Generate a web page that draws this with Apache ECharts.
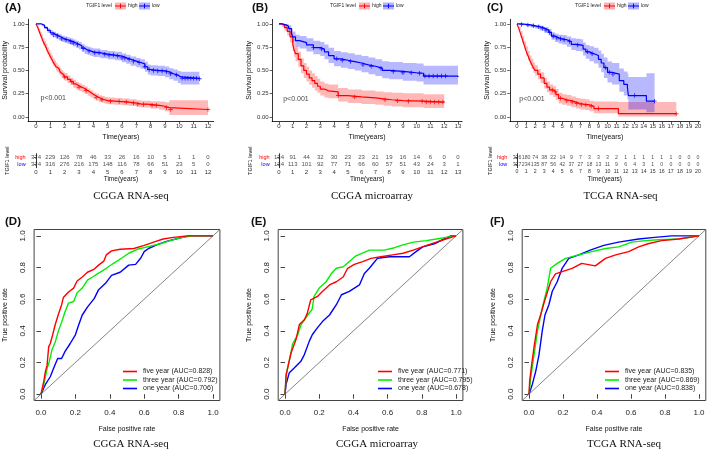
<!DOCTYPE html>
<html><head><meta charset="utf-8">
<script src="https://cdn.jsdelivr.net/npm/echarts@6.0.0/dist/echarts.min.js"></script>
<style>html,body{margin:0;padding:0;background:#fff}#c{width:709px;height:453px}</style>
</head><body><div id="c"></div>
<script>
// ---------- Kaplan-Meier data: [time, survival, lower CI, upper CI] ----------
const A_high = [[0,1,1,1],[0.1,0.97,0.955,0.985],[0.2,0.93,0.905,0.955],[0.3,0.89,0.86,0.92],[0.4,0.85,0.815,0.885],[0.5,0.81,0.77,0.845],[0.6,0.78,0.74,0.82],[0.7,0.75,0.71,0.79],[0.8,0.71,0.668,0.75],[0.9,0.68,0.638,0.72],[1.0,0.65,0.608,0.69],[1.1,0.62,0.578,0.662],[1.2,0.59,0.548,0.632],[1.3,0.565,0.524,0.607],[1.4,0.54,0.5,0.582],[1.5,0.52,0.48,0.562],[1.6,0.5,0.46,0.542],[1.7,0.48,0.44,0.522],[1.8,0.46,0.42,0.502],[1.9,0.445,0.405,0.487],[2.0,0.43,0.39,0.472],[2.2,0.405,0.365,0.447],[2.4,0.38,0.34,0.422],[2.6,0.355,0.315,0.397],[2.8,0.335,0.295,0.377],[3.0,0.32,0.28,0.362],[3.2,0.305,0.266,0.347],[3.4,0.285,0.248,0.327],[3.6,0.265,0.228,0.306],[3.8,0.245,0.208,0.286],[4.0,0.225,0.19,0.264],[4.2,0.21,0.175,0.249],[4.4,0.195,0.162,0.234],[4.6,0.185,0.152,0.224],[4.8,0.175,0.142,0.214],[5.0,0.17,0.137,0.209],[5.5,0.165,0.132,0.204],[6.0,0.16,0.127,0.199],[6.5,0.15,0.117,0.189],[7.0,0.14,0.107,0.18],[7.3,0.135,0.102,0.175],[8.0,0.125,0.09,0.17],[8.6,0.115,0.078,0.165],[9.0,0.1,0.062,0.158],[9.3,0.08,0.022,0.18],[12.0,0.08,0.022,0.18]];
const A_low = [[0,1,1,1],[0.2,1,1,1],[0.4,0.985,0.975,0.995],[0.6,0.96,0.945,0.975],[0.8,0.93,0.905,0.955],[1.0,0.905,0.877,0.933],[1.2,0.885,0.855,0.915],[1.4,0.87,0.838,0.902],[1.6,0.855,0.822,0.888],[1.8,0.84,0.806,0.874],[2.0,0.83,0.795,0.865],[2.2,0.82,0.784,0.856],[2.4,0.81,0.773,0.847],[2.6,0.795,0.757,0.833],[2.8,0.78,0.741,0.819],[3.0,0.765,0.725,0.805],[3.2,0.74,0.698,0.782],[3.4,0.72,0.677,0.763],[3.6,0.71,0.666,0.754],[3.8,0.7,0.656,0.744],[4.0,0.69,0.645,0.735],[4.5,0.675,0.63,0.72],[5.0,0.665,0.62,0.71],[5.5,0.655,0.609,0.701],[6.0,0.635,0.588,0.682],[6.3,0.62,0.572,0.668],[6.6,0.6,0.551,0.649],[7.0,0.585,0.535,0.635],[7.3,0.57,0.519,0.621],[7.6,0.54,0.487,0.593],[7.8,0.51,0.456,0.564],[8.0,0.5,0.445,0.555],[8.5,0.495,0.439,0.551],[9.0,0.485,0.428,0.542],[9.3,0.465,0.406,0.524],[9.6,0.45,0.389,0.511],[9.9,0.43,0.366,0.494],[10.1,0.415,0.348,0.486],[11.4,0.41,0.342,0.486]];
const A_highCensor = [2.0,2.5,3.0,3.5,4.2,4.6,5.2,5.8,6.3,6.8,7.1,7.5,8.1,8.4,9.1,9.4,12.0];
const A_lowCensor = [1.2,1.5,1.8,2.1,2.4,2.6,2.9,3.3,3.7,4.1,4.4,4.8,5.1,5.4,5.7,6.0,6.2,6.5,6.8,7.2,7.6,7.9,8.2,8.5,8.8,9.1,9.4,9.8,10.2,10.4,10.6,10.8,11.0,11.2,11.4];

const B_high = [[0,1,1,1],[0.2,0.99,0.97,1],[0.4,0.96,0.925,0.995],[0.6,0.92,0.875,0.965],[0.8,0.86,0.8,0.92],[1.0,0.78,0.71,0.85],[1.1,0.72,0.645,0.795],[1.2,0.68,0.6,0.76],[1.4,0.62,0.54,0.7],[1.6,0.55,0.47,0.63],[1.8,0.5,0.42,0.58],[2.0,0.46,0.38,0.54],[2.2,0.42,0.345,0.5],[2.4,0.39,0.315,0.47],[2.6,0.36,0.285,0.44],[2.8,0.33,0.26,0.41],[3.0,0.3,0.23,0.38],[3.3,0.28,0.21,0.36],[3.6,0.27,0.2,0.35],[4.3,0.23,0.165,0.31],[5.0,0.215,0.15,0.295],[6.0,0.205,0.14,0.285],[7.0,0.195,0.13,0.275],[7.6,0.185,0.12,0.265],[8.2,0.175,0.112,0.26],[9.0,0.17,0.105,0.255],[10.5,0.16,0.095,0.245],[12.0,0.16,0.095,0.245]];
const B_low = [[0,1,1,1],[0.3,0.99,0.975,1],[0.5,0.975,0.95,1],[0.7,0.95,0.915,0.985],[0.9,0.9,0.85,0.95],[1.0,0.86,0.8,0.92],[1.2,0.82,0.755,0.885],[1.5,0.8,0.735,0.87],[2.0,0.775,0.705,0.845],[2.5,0.745,0.675,0.82],[3.0,0.73,0.655,0.805],[3.3,0.7,0.62,0.78],[3.6,0.66,0.58,0.745],[4.0,0.625,0.545,0.71],[4.5,0.61,0.53,0.695],[5.0,0.595,0.515,0.685],[5.5,0.58,0.5,0.67],[6.0,0.56,0.48,0.655],[6.5,0.545,0.46,0.64],[7.0,0.525,0.44,0.62],[7.5,0.5,0.415,0.6],[8.0,0.49,0.405,0.59],[9.0,0.475,0.39,0.58],[10.0,0.47,0.38,0.575],[10.5,0.44,0.35,0.55],[13.0,0.43,0.335,0.55]];
const B_highCensor = [4.3,5.5,7.7,8.6,9.4,10.4,10.7,11.0,11.3,11.6,11.9];
const B_lowCensor = [2.5,3.1,4.2,4.6,5.2,6.1,6.7,7.4,8.3,9.0,9.6,10.2,10.6,10.9,11.2,11.5,11.8,12.1];

const C_high = [[0,1,1,1],[0.2,0.95,0.925,0.975],[0.4,0.89,0.855,0.925],[0.6,0.83,0.79,0.87],[0.8,0.77,0.725,0.815],[1.0,0.71,0.66,0.76],[1.2,0.66,0.61,0.71],[1.4,0.61,0.56,0.66],[1.6,0.57,0.515,0.625],[1.8,0.53,0.475,0.585],[2.0,0.5,0.445,0.555],[2.3,0.46,0.405,0.515],[2.6,0.42,0.365,0.48],[3.0,0.36,0.305,0.42],[3.3,0.32,0.265,0.38],[3.6,0.29,0.235,0.35],[4.0,0.27,0.215,0.33],[4.3,0.24,0.185,0.3],[4.6,0.2,0.145,0.26],[5.0,0.185,0.13,0.245],[5.5,0.175,0.12,0.235],[6.0,0.16,0.105,0.22],[6.5,0.145,0.09,0.205],[7.0,0.135,0.08,0.195],[7.5,0.13,0.075,0.19],[8.0,0.115,0.06,0.175],[8.5,0.09,0.04,0.165],[11.2,0.035,0.005,0.16],[17.6,0.035,0.005,0.16]];
const C_low = [[0,1,1,1],[0.5,0.995,0.985,1],[1.0,0.99,0.975,1],[1.5,0.98,0.965,0.995],[2.0,0.97,0.95,0.99],[2.5,0.955,0.93,0.98],[3.0,0.935,0.905,0.965],[3.5,0.91,0.875,0.945],[3.8,0.87,0.83,0.91],[4.2,0.85,0.805,0.895],[4.6,0.84,0.79,0.885],[5.0,0.83,0.78,0.88],[5.5,0.81,0.755,0.865],[6.0,0.78,0.72,0.845],[6.5,0.775,0.71,0.84],[7.0,0.77,0.705,0.835],[7.3,0.73,0.66,0.8],[7.6,0.7,0.625,0.775],[8.0,0.68,0.6,0.76],[8.5,0.66,0.575,0.745],[9.0,0.62,0.53,0.715],[9.3,0.58,0.48,0.68],[9.6,0.53,0.42,0.64],[10.0,0.48,0.37,0.595],[10.5,0.46,0.35,0.58],[11.3,0.39,0.27,0.52],[11.8,0.35,0.23,0.49],[12.2,0.32,0.19,0.47],[12.3,0.23,0.08,0.43],[14.3,0.17,0.05,0.47],[15.2,0.17,0.05,0.47]];
const C_highCensor = [3.9,4.2,4.8,5.5,6.1,6.6,7.1,7.6,8.2,9.0,17.6];
const C_lowCensor = [0.5,1.2,1.8,2.4,2.8,3.2,3.6,4.0,4.4,4.8,5.2,5.8,6.7,7.8,8.3,9.8,10.2,10.6,13.0,15.2];

// ---------- number-at-risk tables ----------
const A_riskTimes = [0,1,2,3,4,5,6,7,8,9,10,11,12];
const A_riskHigh = [374,229,126,78,46,33,26,16,10,5,1,1,0];
const A_riskLow  = [374,316,276,216,175,148,116,78,66,51,23,5,0];
const B_riskTimes = [0,1,2,3,4,5,6,7,8,9,10,11,12,13];
const B_riskHigh = [134,91,44,32,30,23,23,21,19,16,14,6,0,0];
const B_riskLow  = [134,113,101,92,77,71,66,60,57,51,43,24,3,1];
const C_riskTimes = [0,1,2,3,4,5,6,7,8,9,10,11,12,13,14,15,16,17,18,19,20];
const C_riskHigh = [326,180,74,38,22,14,9,7,3,3,3,2,1,1,1,1,1,1,0,0,0];
const C_riskLow  = [327,234,135,87,56,42,37,27,18,13,11,9,6,4,3,1,0,0,0,0,0];

const kmYTicks = [0,0.25,0.5,0.75,1];
const rocTicks = [0,0.2,0.4,0.6,0.8,1];

// ---------- ROC data: [false positive rate, true positive rate] ----------
const D_five = [[0,0],[0.006,0],[0.016,0.08],[0.025,0.14],[0.035,0.18],[0.045,0.3],[0.054,0.32],[0.068,0.375],[0.083,0.44],[0.1,0.5],[0.12,0.565],[0.13,0.61],[0.16,0.645],[0.19,0.67],[0.21,0.715],[0.24,0.74],[0.27,0.77],[0.31,0.79],[0.335,0.815],[0.365,0.84],[0.38,0.88],[0.41,0.905],[0.46,0.915],[0.54,0.92],[0.6,0.94],[0.655,0.96],[0.71,0.98],[0.77,0.99],[0.85,1],[1,1]];
const D_three = [[0,0],[0.006,0],[0.02,0.08],[0.035,0.16],[0.048,0.205],[0.064,0.28],[0.083,0.33],[0.1,0.395],[0.12,0.455],[0.14,0.52],[0.16,0.575],[0.19,0.585],[0.21,0.64],[0.24,0.67],[0.27,0.72],[0.3,0.74],[0.335,0.765],[0.38,0.795],[0.42,0.825],[0.47,0.86],[0.51,0.89],[0.56,0.915],[0.635,0.935],[0.695,0.95],[0.75,0.97],[0.82,0.99],[0.89,1],[1,1]];
const D_one = [[0,0],[0.025,0.06],[0.054,0.11],[0.074,0.165],[0.097,0.225],[0.12,0.225],[0.14,0.27],[0.17,0.32],[0.2,0.375],[0.22,0.44],[0.24,0.5],[0.27,0.55],[0.31,0.605],[0.335,0.66],[0.375,0.7],[0.41,0.75],[0.46,0.77],[0.51,0.815],[0.55,0.82],[0.58,0.86],[0.6,0.9],[0.625,0.92],[0.675,0.945],[0.73,0.965],[0.8,0.985],[0.86,1],[1,1]];
const E_five = [[0,0],[0.006,0.115],[0.02,0.19],[0.035,0.26],[0.064,0.345],[0.084,0.44],[0.113,0.47],[0.13,0.51],[0.15,0.595],[0.19,0.617],[0.22,0.65],[0.26,0.69],[0.3,0.71],[0.34,0.74],[0.366,0.795],[0.405,0.82],[0.454,0.837],[0.503,0.858],[0.56,0.868],[0.63,0.88],[0.69,0.89],[0.75,0.91],[0.815,0.935],[0.885,0.96],[0.94,0.98],[1,1]];
const E_three = [[0,0],[0.006,0.125],[0.025,0.21],[0.045,0.32],[0.074,0.375],[0.094,0.44],[0.133,0.5],[0.158,0.535],[0.17,0.617],[0.2,0.67],[0.24,0.71],[0.27,0.76],[0.3,0.795],[0.34,0.805],[0.386,0.847],[0.415,0.874],[0.493,0.91],[0.58,0.91],[0.64,0.925],[0.68,0.94],[0.75,0.96],[0.825,0.97],[0.885,0.98],[0.94,0.99],[1,1]];
const E_one = [[0,0],[0.006,0.063],[0.025,0.136],[0.055,0.167],[0.094,0.21],[0.113,0.25],[0.142,0.335],[0.16,0.377],[0.19,0.42],[0.22,0.46],[0.26,0.5],[0.3,0.565],[0.33,0.628],[0.376,0.649],[0.435,0.69],[0.464,0.762],[0.493,0.795],[0.54,0.858],[0.61,0.868],[0.727,0.868],[0.766,0.9],[0.805,0.93],[0.873,0.95],[0.93,0.98],[0.97,1],[1,1]];
const F_five = [[0,0],[0.004,0.084],[0.016,0.19],[0.03,0.3],[0.05,0.44],[0.068,0.5],[0.088,0.575],[0.107,0.64],[0.127,0.71],[0.156,0.76],[0.195,0.774],[0.254,0.795],[0.31,0.826],[0.39,0.81],[0.45,0.858],[0.51,0.88],[0.586,0.9],[0.645,0.93],[0.7,0.95],[0.78,0.97],[0.88,0.98],[1,1]];
const F_three = [[0,0],[0.01,0.105],[0.03,0.25],[0.05,0.4],[0.078,0.544],[0.107,0.67],[0.127,0.795],[0.166,0.826],[0.215,0.858],[0.293,0.88],[0.37,0.9],[0.45,0.92],[0.527,0.93],[0.605,0.96],[0.684,0.97],[0.76,0.975],[0.88,0.98],[1,1]];
const F_one = [[0,0],[0.02,0.063],[0.04,0.146],[0.059,0.25],[0.078,0.4],[0.094,0.5],[0.117,0.565],[0.137,0.65],[0.166,0.71],[0.195,0.795],[0.234,0.858],[0.293,0.88],[0.36,0.91],[0.44,0.94],[0.527,0.96],[0.645,0.98],[0.74,0.99],[0.84,1],[1,1]];
const D_names = ['five year (AUC=0.828)','three year (AUC=0.792)','one year (AUC=0.706)'];
const E_names = ['five year (AUC=0.771)','three year (AUC=0.795)','one year (AUC=0.678)'];
const F_names = ['five year (AUC=0.835)','three year (AUC=0.869)','one year (AUC=0.838)'];

// ---------- build ----------
const SANS = 'Liberation Sans, Arial, Helvetica, sans-serif';
const SERIF = 'Liberation Serif, Times New Roman, serif';
const RED = '#ff0000', BLUE = '#0000ff', GREEN = '#00ee00';
const CROSS = 'path://M4,0H6V4H10V6H6V10H4V6H0V4H4Z';

function stepAt(curve, t){ let s = curve[0][1]; for (const p of curve){ if (p[0] <= t + 1e-9) s = p[1]; else break; } return s; }

// confidence band: one stepped polygon built through the axis scale (api.coord)
function bandSeries(i, curve, fill){
  return {type:'custom', xAxisIndex:i, yAxisIndex:i, silent:true, z:1,
    data:curve.map(d => [d[0], d[2], d[3]]),
    encode:{x:0, y:[1,2]},
    renderItem:(params, api) => {
      if (params.dataIndex !== 0) return null;
      const up = [], lo = [];
      for (let j = 0; j < curve.length; j++) {
        const t0 = curve[j][0], t1 = j + 1 < curve.length ? curve[j + 1][0] : curve[j][0];
        up.push(api.coord([t0, curve[j][3]]), api.coord([t1, curve[j][3]]));
        lo.push(api.coord([t0, curve[j][2]]), api.coord([t1, curve[j][2]]));
      }
      return {type:'polygon', shape:{points:up.concat(lo.reverse())}, style:{fill:fill}};
    }};
}

const km = [
  {high:A_high, low:A_low, hc:A_highCensor, lc:A_lowCensor, min:-0.55, max:12.4, times:A_riskTimes, rh:A_riskHigh, rl:A_riskLow, left:28.1, width:185.6, yGap:20, riskFont:6, pPos:[0.28,0.205], legendX:86},
  {high:B_high, low:B_low, hc:B_highCensor, lc:B_lowCensor, min:-0.5, max:13.3, times:B_riskTimes, rh:B_riskHigh, rl:B_riskLow, left:272.1, width:190, yGap:21, riskFont:6, pPos:[0.27,0.19], legendX:330},
  {high:C_high, low:C_low, hc:C_highCensor, lc:C_lowCensor, min:-0.8, max:20.2, times:C_riskTimes, rh:C_riskHigh, rl:C_riskLow, left:509.8, width:190, yGap:17, riskFont:5.2, pPos:[0.19,0.19], legendX:575}
];
const roc = [
  {curves:[D_five,D_three,D_one], names:D_names, left:34.1, width:185.8, legendX:123},
  {curves:[E_five,E_three,E_one], names:E_names, left:278.2, width:184.7, legendX:378},
  {curves:[F_five,F_three,F_one], names:F_names, left:522.2, width:183.6, legendX:605}
];

const grid = [], xAxis = [], yAxis = [], series = [], legend = [], graphic = [];

km.forEach((p, i) => {
  grid.push({left:p.left, top:19.3, width:p.width, height:102.3});
  xAxis.push({type:'value', gridIndex:i, min:p.min, max:p.max,
    axisLine:{onZero:false, lineStyle:{color:'#000', width:0.8}},
    axisTick:{customValues:p.times, length:2.5, lineStyle:{color:'#333', width:0.8}},
    axisLabel:{customValues:p.times, fontSize:6, color:'#333', margin:2, fontFamily:SANS},
    splitLine:{show:false},
    name:'Time(years)', nameLocation:'middle', nameGap:11.5, nameTextStyle:{fontSize:7, color:'#111', fontFamily:SANS}});
  yAxis.push({type:'value', gridIndex:i, min:-0.05, max:1.05,
    axisLine:{show:true, onZero:false, lineStyle:{color:'#000', width:0.8}},
    axisTick:{show:true, customValues:kmYTicks, length:2.5, lineStyle:{color:'#333', width:0.8}},
    axisLabel:{customValues:kmYTicks, fontSize:6, color:'#333', margin:3.5, fontFamily:SANS, formatter:v => v.toFixed(2)},
    splitLine:{show:false},
    name:'Survival probability', nameLocation:'middle', nameRotate:90, nameGap:p.yGap-4, nameTextStyle:{fontSize:7, color:'#111', fontFamily:SANS}});
  series.push(bandSeries(i, p.high, 'rgba(255,0,0,0.28)'));
  series.push(bandSeries(i, p.low, 'rgba(0,0,255,0.28)'));
  [['high', p.high, RED, p.hc], ['low', p.low, BLUE, p.lc]].forEach(([g, curve, col, cens]) => {
    series.push({type:'line', xAxisIndex:i, yAxisIndex:i, step:'end', showSymbol:false, silent:true,
      data:curve.map(d => [d[0], d[1]]), lineStyle:{color:col, width:1.2}, z:3});
    series.push({type:'scatter', xAxisIndex:i, yAxisIndex:i, symbol:CROSS, symbolSize:4.5, silent:true,
      data:cens.map(t => [t, stepAt(curve, t)]), itemStyle:{color:col}, z:4});
  });
  series.push({type:'scatter', xAxisIndex:i, yAxisIndex:i, symbolSize:1, silent:true, itemStyle:{color:'rgba(0,0,0,0)'},
    data:[p.pPos], label:{show:true, position:'right', distance:0, formatter:'p<0.001', fontSize:7, color:'#111', fontFamily:SANS}});
});

km.forEach((p, k) => {
  const i = 3 + k;
  grid.push({left:p.left, top:153.7, width:p.width, height:14});
  xAxis.push({type:'value', gridIndex:i, min:p.min, max:p.max,
    axisLine:{onZero:false, lineStyle:{color:'#000', width:0.8}},
    axisTick:{customValues:p.times, length:2, lineStyle:{color:'#333', width:0.8}},
    axisLabel:{customValues:p.times, fontSize:p.riskFont, color:'#333', margin:1.5, fontFamily:SANS},
    splitLine:{show:false},
    name:'Time(years)', nameLocation:'middle', nameGap:8.5, nameTextStyle:{fontSize:6.5, color:'#111', fontFamily:SANS}});
  yAxis.push({type:'category', gridIndex:i, data:['high','low'], inverse:true,
    axisLine:{show:true, lineStyle:{color:'#000', width:0.8}},
    axisTick:{show:true, length:2, alignWithLabel:true, lineStyle:{color:'#333', width:0.8}},
    axisLabel:{interval:0, fontSize:5.5, margin:2.5, fontFamily:SANS, color:(v) => v === 'high' ? RED : BLUE},
    name:'TGIF1 level', nameLocation:'middle', nameRotate:90, nameGap:p.yGap - 2, nameTextStyle:{fontSize:5.5, color:'#111', fontFamily:SANS}});
  [['high', p.rh], ['low', p.rl]].forEach(([g, vals]) => {
    series.push({type:'scatter', xAxisIndex:i, yAxisIndex:i, symbolSize:1, silent:true, itemStyle:{color:'rgba(0,0,0,0)'},
      data:vals.map((n, j) => [p.times[j], g, n]),
      label:{show:true, position:'inside', formatter:(d) => String(d.value[2]), fontSize:p.riskFont, color:'#222', fontFamily:SANS}});
  });
});

roc.forEach((p, k) => {
  const i = 6 + k;
  grid.push({left:p.left, top:229.5, width:p.width, height:171, show:true, borderColor:'#444', borderWidth:1});
  xAxis.push({type:'value', gridIndex:i, min:-0.04, max:1.04,
    axisLine:{show:false}, splitLine:{show:false},
    axisTick:{show:true, customValues:rocTicks, length:4.5, lineStyle:{color:'#444', width:1}},
    axisLabel:{customValues:rocTicks, fontSize:8, color:'#222', margin:8, fontFamily:SANS, formatter:v => v.toFixed(1)},
    name:'False positive rate', nameLocation:'middle', nameGap:25, nameTextStyle:{fontSize:7, color:'#111', fontFamily:SANS}});
  yAxis.push({type:'value', gridIndex:i, min:-0.04, max:1.04,
    axisLine:{show:false}, splitLine:{show:false},
    axisTick:{show:true, customValues:rocTicks, length:4.5, lineStyle:{color:'#444', width:1}},
    axisLabel:{customValues:rocTicks, fontSize:8, color:'#222', margin:7.5, rotate:90, fontFamily:SANS, formatter:v => v.toFixed(1)},
    name:'True positive rate', nameLocation:'middle', nameRotate:90, nameGap:26, nameTextStyle:{fontSize:7, color:'#111', fontFamily:SANS}});
  series.push({type:'line', xAxisIndex:i, yAxisIndex:i, showSymbol:false, silent:true,
    data:[[-0.04,-0.04],[1.04,1.04]], lineStyle:{color:'#777', width:0.9}, z:1});
  const cols = [RED, GREEN, BLUE];
  p.curves.forEach((c, j) => {
    series.push({type:'line', name:p.names[j], xAxisIndex:i, yAxisIndex:i, showSymbol:false, silent:true,
      data:c, color:cols[j], lineStyle:{color:cols[j], width:1.4}, z:3 - j * 0.1});
  });
  legend.push({left:p.legendX, top:368, orient:'vertical', padding:0, itemGap:1.5, itemWidth:14, itemHeight:1.6,
    icon:'rect', selectedMode:false, data:p.names, textStyle:{fontSize:7, color:'#222', fontFamily:SANS, padding:[0,0,0,1]}});
});

// panel labels & subtitles
[['(A)',5,8],['(B)',252,8],['(C)',487,8],['(D)',5,222],['(E)',251,222],['(F)',490,222]].forEach(([t,x,y]) => {
  graphic.push({type:'text', style:{text:t, x, y, fontSize:11.5, fontWeight:'bold', fontFamily:SANS, fill:'#111', verticalAlign:'middle'}});
});
[['CGGA RNA-seq',131,196],['CGGA microarray',372,196],['TCGA RNA-seq',620.5,196],['CGGA RNA-seq',131,444],['CGGA microarray',377,444],['TCGA RNA-seq',624,444]].forEach(([t,x,y]) => {
  graphic.push({type:'text', style:{text:t, x, y, fontSize:11, fontFamily:SERIF, fill:'#111', align:'center', verticalAlign:'middle'}});
});
// KM legends
km.forEach(p => {
  const x0 = p.legendX, y0 = 6;
  graphic.push({type:'text', style:{text:'TGIF1 level', x:x0, y:y0, fontSize:5, fontFamily:SANS, fill:'#222', verticalAlign:'middle'}});
  [['high',29,42,RED,'rgba(255,0,0,0.3)'],['low',53,66,BLUE,'rgba(0,0,255,0.3)']].forEach(([name,bx,tx,c,f]) => {
    graphic.push({type:'rect', shape:{x:x0+bx, y:y0-3.5, width:11, height:7}, style:{fill:f}});
    graphic.push({type:'line', shape:{x1:x0+bx, y1:y0, x2:x0+bx+11, y2:y0}, style:{stroke:c, lineWidth:1}});
    graphic.push({type:'line', shape:{x1:x0+bx+5.5, y1:y0-2.3, x2:x0+bx+5.5, y2:y0+2.3}, style:{stroke:c, lineWidth:1}});
    graphic.push({type:'text', style:{text:name, x:x0+tx, y:y0, fontSize:5, fontFamily:SANS, fill:'#222', verticalAlign:'middle'}});
  });
});

const chart = echarts.init(document.getElementById('c'), null, {renderer:'canvas', width:709, height:453});
chart.setOption({animation:false, backgroundColor:'#fff', grid, xAxis, yAxis, series, legend, graphic});
</script></body></html>
